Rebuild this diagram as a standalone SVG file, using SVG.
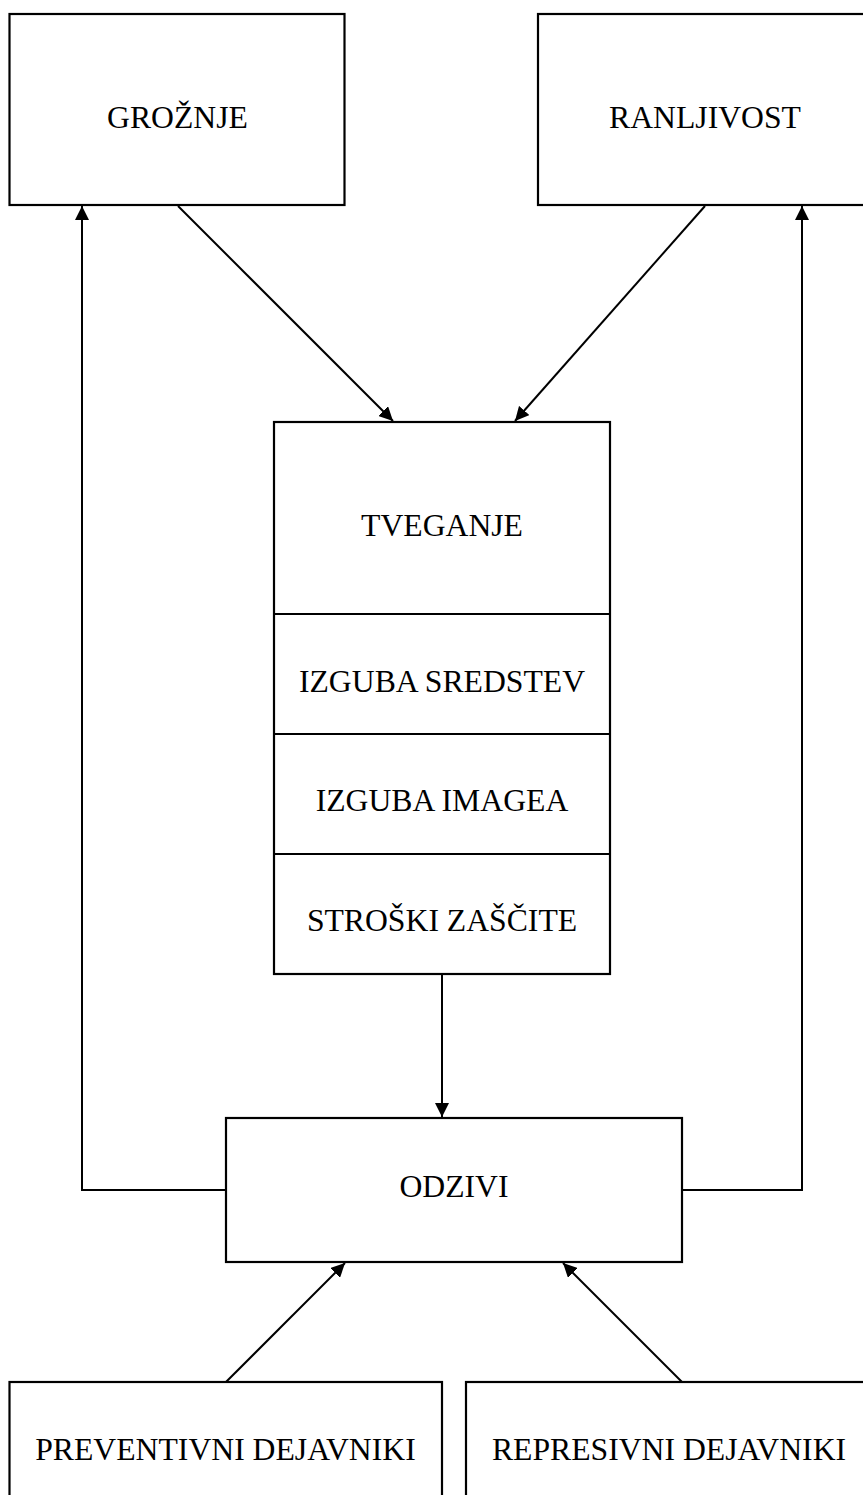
<svg xmlns="http://www.w3.org/2000/svg" width="863" height="1495" viewBox="0 0 863 1495">
<style>
.box{fill:#fff;stroke:#000;stroke-width:2.2}
.div{stroke:#000;stroke-width:2.2}
.lbl{font-family:"Liberation Serif","Times New Roman",serif;font-size:31.7px;fill:#000;text-anchor:middle}
.con{fill:none;stroke:#000;stroke-width:2}
</style>
<defs>
<marker id="ah" markerUnits="userSpaceOnUse" markerWidth="14" markerHeight="14" refX="14" refY="7" orient="auto">
<path d="M0,0 L14,7 L0,14 z" fill="#000"/>
</marker>
</defs>
<rect width="863" height="1495" fill="#fff"/>
<g id="connectors">
<line class="con" x1="178" y1="206" x2="393" y2="421" marker-end="url(#ah)"/>
<line class="con" x1="705" y1="206" x2="515" y2="421" marker-end="url(#ah)"/>
<line class="con" x1="442" y1="974" x2="442" y2="1117" marker-end="url(#ah)"/>
<polyline class="con" points="226,1190 82,1190 82,206" marker-end="url(#ah)"/>
<polyline class="con" points="682,1190 802,1190 802,206" marker-end="url(#ah)"/>
<line class="con" x1="226" y1="1382" x2="345" y2="1263" marker-end="url(#ah)"/>
<line class="con" x1="682" y1="1382" x2="563" y2="1263" marker-end="url(#ah)"/>
</g>
<g id="groznje">
<rect class="box" x="9.5" y="14" width="335" height="191"/>
<text class="lbl" x="177.5" y="128">GROŽNJE</text>
</g>
<g id="ranljivost">
<rect class="box" x="538" y="14" width="335" height="191"/>
<text class="lbl" x="705" y="128">RANLJIVOST</text>
</g>
<g id="tveganje">
<rect class="box" x="274" y="422" width="336" height="552"/>
<line class="div" x1="274" y1="614" x2="610" y2="614"/>
<line class="div" x1="274" y1="734" x2="610" y2="734"/>
<line class="div" x1="274" y1="854" x2="610" y2="854"/>
<text class="lbl" x="442" y="536">TVEGANJE</text>
<text class="lbl" x="442" y="692">IZGUBA SREDSTEV</text>
<text class="lbl" x="442" y="811">IZGUBA IMAGEA</text>
<text class="lbl" x="442" y="931">STROŠKI ZAŠČITE</text>
</g>
<g id="odzivi">
<rect class="box" x="226" y="1118" width="456" height="144"/>
<text class="lbl" x="454" y="1197">ODZIVI</text>
</g>
<g id="preventivni">
<rect class="box" x="9.5" y="1382" width="432.5" height="150"/>
<text class="lbl" x="225.5" y="1460">PREVENTIVNI DEJAVNIKI</text>
</g>
<g id="represivni">
<rect class="box" x="466" y="1382" width="406" height="150"/>
<text class="lbl" x="669" y="1460">REPRESIVNI DEJAVNIKI</text>
</g>
</svg>
